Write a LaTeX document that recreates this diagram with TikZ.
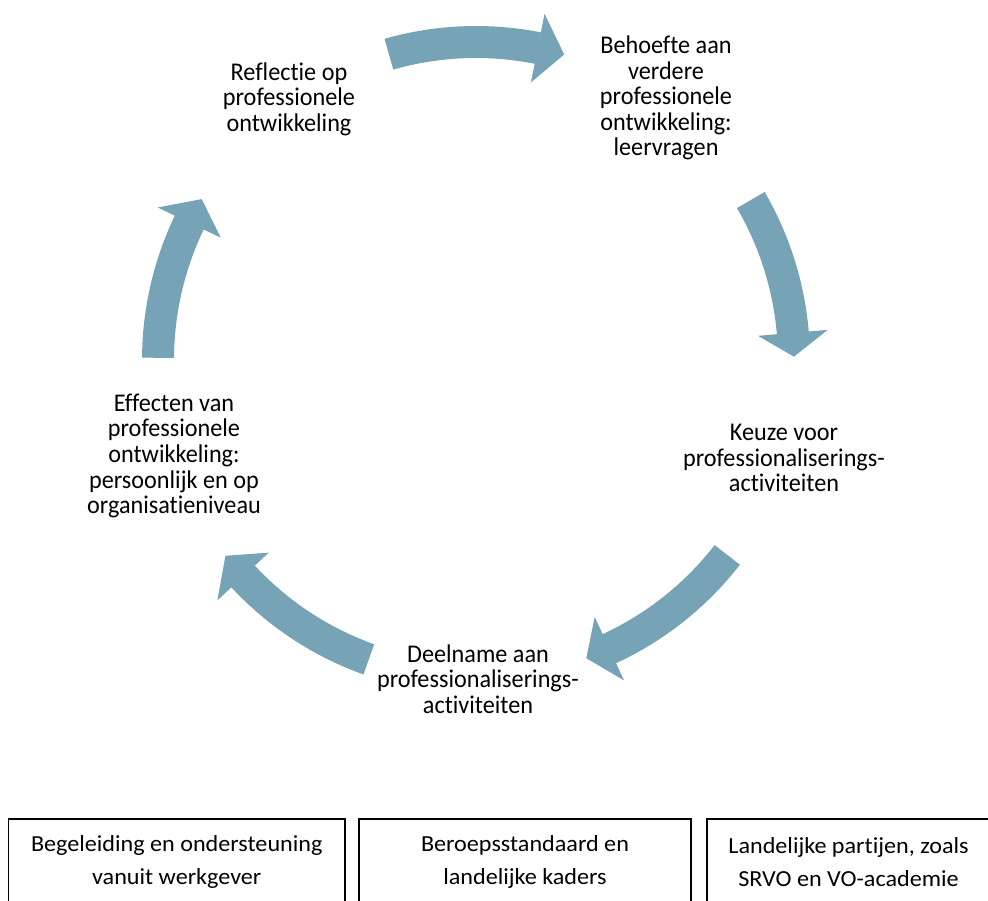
\documentclass[tikz,border=0pt]{standalone}
\usepackage{fontspec}
\setmainfont{Carlito}[Ligatures={NoCommon,NoContextual}]
\newfontfamily\cycfont{Carlito}[FakeStretch=0.95,Ligatures={NoCommon,NoContextual}]
\newfontfamily\boxfont{Carlito}[FakeStretch=1.05,Ligatures={NoCommon,NoContextual}]
\definecolor{arrowblue}{RGB}{119,163,182}
% curved block arrow on the cycle: start angle, shaft end angle, tip angle
\newcommand\cyclearrow[3]{%
  \fill[arrowblue] (#1:334) arc[start angle=#1,end angle=#2,radius=334]
    -- (#2:353) -- (#3:318) -- (#2:283) -- (#2:302)
    arc[start angle=#2,end angle=#1,radius=302] -- cycle;}
\begin{document}
\begin{tikzpicture}[x=1pt,y=-1pt,
  stagetext/.style={align=center,inner sep=0pt,
    font=\cycfont\fontsize{25.5}{25.6}\selectfont},
  sourcebox/.style={draw,line width=1.8pt,align=center,inner sep=0pt,
    minimum height=86pt,font=\boxfont\fontsize{23}{32.5}\selectfont}]
\useasboundingbox (0,0) rectangle (988,901);
\clip (0,0) rectangle (988,901);

% stages of the cycle
\node[stagetext] (reflect) at (289,99) {Reflectie op\\professionele\\ontwikkeling};
\node[stagetext] (need) at (666,98) {Behoefte aan\\verdere\\professionele\\ontwikkeling:\\leervragen};
\node[stagetext] (choice) at (784,458) {Keuze voor\\professionaliserings-\\activiteiten};
\node[stagetext] (join) at (478,679) {Deelname aan\\professionaliserings-\\activiteiten};
\node[stagetext] (effect) at (174,456) {Effecten van\\professionele\\ontwikkeling:\\persoonlijk en op\\organisatieniveau};

% arrows around the cycle
\begin{scope}[shift={(476,360)}]
  \cyclearrow{-105.9}{-78.8}{-73.9}
  \cyclearrow{-30.2}{-4.9}{-0.6}
  \cyclearrow{37.8}{65.2}{69.7}
  \cyclearrow{109.7}{137.1}{142}
  \cyclearrow{-179.6}{-154.4}{-149.6}
\end{scope}

% supporting context boxes
\node[sourcebox,minimum width=336.5pt] (employer) at (176.75,862) {Begeleiding en ondersteuning\\vanuit werkgever};
\node[sourcebox,minimum width=332pt] (standard) at (525,862) {Beroepsstandaard en\\landelijke kaders};
\node[sourcebox,minimum width=283pt] (national) at (848.5,862) {Landelijke partijen, zoals\\SRVO en VO-academie};
\end{tikzpicture}
\end{document}
